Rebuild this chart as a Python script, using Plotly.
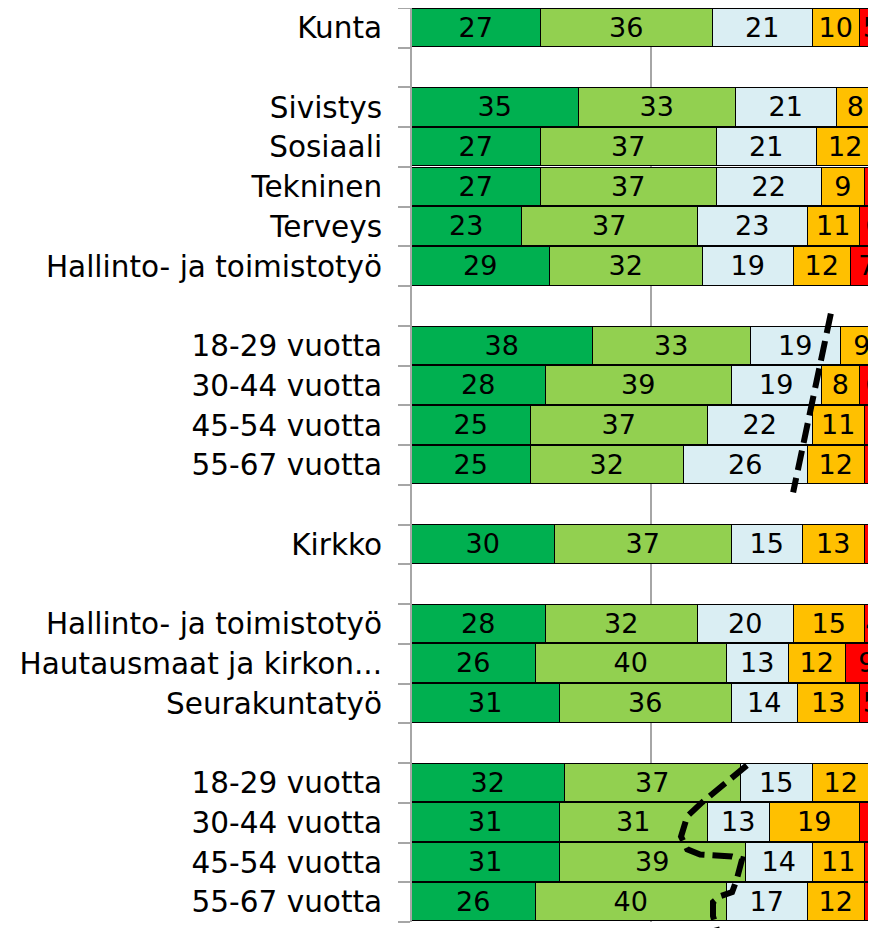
import plotly.graph_objects as go

# ---- data ----
categories = [
    "Kunta", "",
    "Sivistys", "Sosiaali", "Tekninen", "Terveys", "Hallinto- ja toimistotyö", "",
    "18-29 vuotta", "30-44 vuotta", "45-54 vuotta", "55-67 vuotta", "",
    "Kirkko", "",
    "Hallinto- ja toimistotyö", "Hautausmaat ja kirkon...", "Seurakuntatyö", "",
    "18-29 vuotta", "30-44 vuotta", "45-54 vuotta", "55-67 vuotta",
]
s1 = [27, None, 35, 27, 27, 23, 29, None, 38, 28, 25, 25, None, 30, None, 28, 26, 31, None, 32, 31, 31, 26]
s2 = [36, None, 33, 37, 37, 37, 32, None, 33, 39, 37, 32, None, 37, None, 32, 40, 36, None, 37, 31, 39, 40]
s3 = [21, None, 21, 21, 22, 23, 19, None, 19, 19, 22, 26, None, 15, None, 20, 13, 14, None, 15, 13, 14, 17]
s4 = [10, None, 8, 12, 9, 11, 12, None, 9, 8, 11, 12, None, 13, None, 15, 12, 13, None, 12, 19, 11, 12]
s5 = [5, None, 3, 3, 6, 6, 7, None, 1, 6, 5, 5, None, 6, None, 4, 9, 5, None, 4, 7, 5, 6]
series = [s1, s2, s3, s4, s5]
colors = ["#00B050", "#92D050", "#DAEEF3", "#FFC000", "#FF0000"]

# hand-drawn dashed annotation lines (x in %, y in row index)
dash1_x = [87.8, 79.9]
dash1_y = [7.19, 11.69]
dash2_x = [70.2, 60.8, 57.7, 56.4, 57.7, 60.4, 67.1, 69.2, 68.1, 67.1, 64.6, 63.1, 63.1, 64.2]
dash2_y = [18.56, 19.49, 19.84, 20.35, 20.67, 20.80, 20.85, 20.92, 21.42, 21.75, 21.85, 22.0, 22.35, 22.80]

XMAX = 97.27
NROWS = len(categories)
rows = list(range(NROWS))

fig = go.Figure()
for vals, col in zip(series, colors):
    fig.add_trace(go.Bar(
        y=rows, x=vals, orientation="h", width=0.97,
        marker=dict(color=col, line=dict(color="black", width=1.5)),
        text=[("" if v is None else str(v)) for v in vals],
        textposition="inside", insidetextanchor="middle",
        constraintext="none",
        textfont=dict(family="DejaVu Sans", size=27, color="black"),
        showlegend=False, hoverinfo="skip",
    ))


def to_paper(xs, ys):
    return [(x / XMAX, (NROWS - 0.5 - y) / NROWS) for x, y in zip(xs, ys)]


for xs, ys in [(dash1_x, dash1_y), (dash2_x, dash2_y)]:
    pts = to_paper(xs, ys)
    path = "M " + " L ".join(f"{px:.5f},{py:.5f}" for px, py in pts)
    fig.add_shape(type="path", path=path, xref="paper", yref="paper",
                  line=dict(color="black", width=6, dash="20px,8px"), layer="above")

fig.update_layout(
    width=868, height=920,
    margin=dict(l=404, r=0, t=0, b=6, autoexpand=False),
    barmode="stack", bargap=0,
    plot_bgcolor="white", paper_bgcolor="white",
    font=dict(family="DejaVu Sans", size=27, color="black"),
    xaxis=dict(range=[0, XMAX], showticklabels=False, ticks="",
               showgrid=True, gridcolor="#A6A6A6", gridwidth=2, automargin=False,
               tickvals=[0, 50, 100], zeroline=False, showline=False),
    yaxis=dict(range=[NROWS - 0.5, -0.5], tickvals=rows, ticktext=categories,
               automargin=False,
               ticks="outside", ticklen=12, tickcolor="rgba(0,0,0,0)",
               ticklabelstandoff=10,
               showline=True, linecolor="#A6A6A6", linewidth=2,
               showgrid=False, zeroline=False,
               minor=dict(tickvals=[r + 0.5 for r in range(-1, NROWS)],
                          ticks="outside", ticklen=12, tickcolor="#A6A6A6",
                          tickwidth=2, showgrid=False),
               tickfont=dict(family="DejaVu Sans", size=29.5, color="black")),
)

fig.write_html("out.html")
